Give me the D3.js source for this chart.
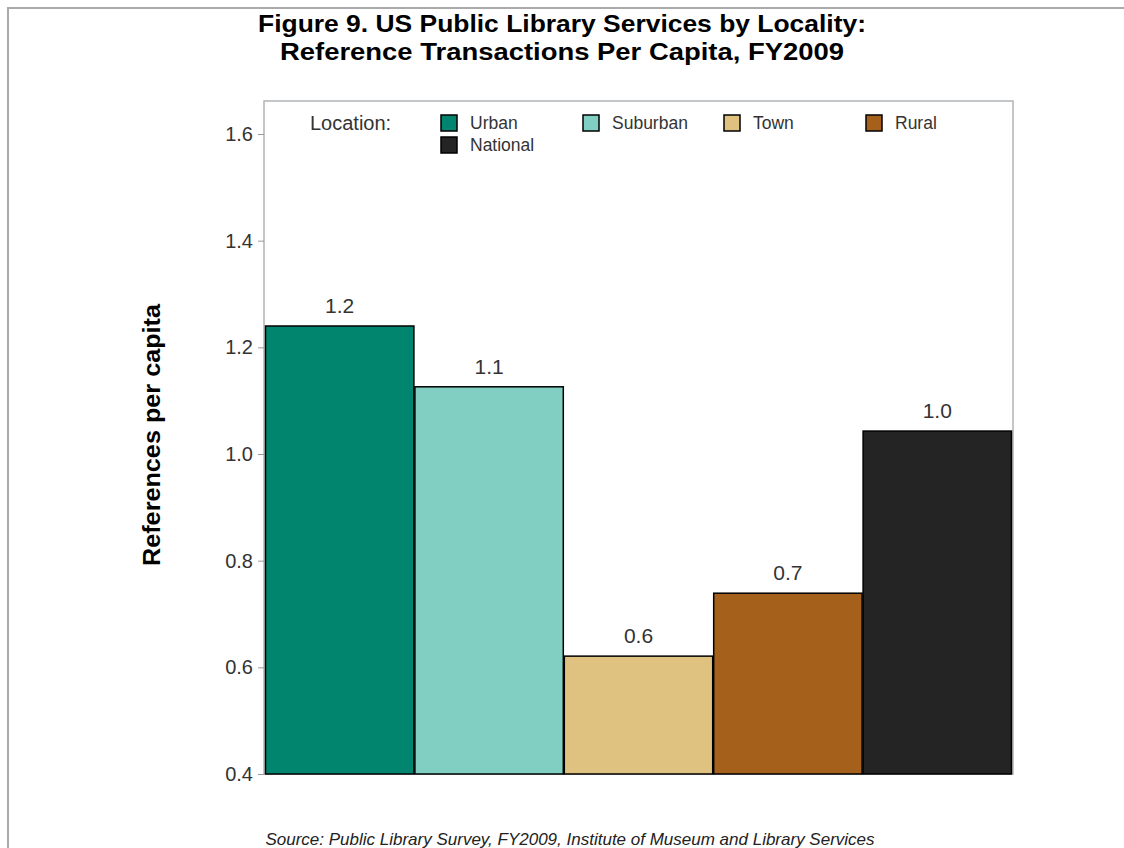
<!DOCTYPE html>
<html><head><meta charset="utf-8">
<script src="https://cdn.jsdelivr.net/npm/d3@7"></script>
<style>body{margin:0;background:#fff;} svg{display:block;}</style>
</head><body>
<script>
const categories = ["Urban", "Suburban", "Town", "Rural", "National"];
const values = [1.24, 1.126, 0.621, 0.739, 1.043];
const valueLabels = ["1.2", "1.1", "0.6", "0.7", "1.0"];
const colors = ["#02856f", "#81cfc2", "#dfc27f", "#a5611c", "#242424"];
const yTicks = [0.4, 0.6, 0.8, 1.0, 1.2, 1.4, 1.6];
const titleLines = ["Figure 9. US Public Library Services by Locality:", "Reference Transactions Per Capita, FY2009"];
const yTitle = "References per capita";
const legendTitle = "Location:";
const source = "Source: Public Library Survey, FY2009, Institute of Museum and Library Services";

const W = 1124, H = 848;
const svg = d3.select("body").append("svg").attr("width", W).attr("height", H);
const font = "Liberation Sans, Arial, sans-serif";

// outer border
svg.append("path").attr("d", `M8,${H} L8,8 L${W},8`).attr("fill","none").attr("stroke","#aaaaaa").attr("stroke-width",2);

const plot = {x0: 264, x1: 1013, y0: 101, y1: 774};
const y = d3.scaleLinear().domain([0.4, 1.6]).range([774, 134]);
const x = d3.scaleBand().domain(categories).range([plot.x0 + 1, plot.x1 - 1]).paddingInner(0).paddingOuter(0);

// title
const titleWidths = [608, 564];
svg.append("g").selectAll("text").data(titleLines).join("text")
  .attr("x", 562).attr("y", (d,i) => 32 + i*28)
  .attr("text-anchor","middle").attr("font-family", font).attr("font-weight","bold")
  .attr("font-size", 23).attr("fill","#000")
  .attr("textLength", (d,i) => titleWidths[i]).attr("lengthAdjust","spacingAndGlyphs")
  .text(d => d);

// plot frame
svg.append("rect").attr("x", plot.x0).attr("y", plot.y0).attr("width", plot.x1-plot.x0).attr("height", plot.y1-plot.y0)
  .attr("fill","none").attr("stroke","#b0b4b8").attr("stroke-width",1.5);

// bars
svg.append("g").selectAll("rect").data(categories).join("rect")
  .attr("x", d => x(d) + 0.5).attr("width", x.bandwidth() - 1)
  .attr("y", (d,i) => y(values[i])).attr("height", (d,i) => y(0.4) - y(values[i]))
  .attr("fill", (d,i) => colors[i]).attr("stroke","#000").attr("stroke-width",1.5);

// value labels
svg.append("g").selectAll("text").data(categories).join("text")
  .attr("x", d => x(d) + x.bandwidth()/2).attr("y", (d,i) => y(values[i]) - 13)
  .attr("text-anchor","middle").attr("font-family", font).attr("font-size", 21).attr("fill","#333")
  .text((d,i) => valueLabels[i]);

// y axis
const yAxis = d3.axisLeft(y).tickValues(yTicks).tickFormat(d3.format(".1f")).tickSize(6).tickPadding(5);
const ga = svg.append("g").attr("transform", `translate(${plot.x0},0)`).call(yAxis);
ga.select(".domain").remove();
ga.selectAll(".tick line").attr("stroke","#999");
ga.selectAll(".tick text").attr("font-family", font).attr("font-size", 20).attr("fill","#333");

// y title
svg.append("text").attr("transform", "translate(160,435) rotate(-90)")
  .attr("text-anchor","middle").attr("font-family", font).attr("font-weight","bold")
  .attr("font-size", 23).attr("fill","#000")
  .attr("textLength", 262).attr("lengthAdjust","spacingAndGlyphs").text(yTitle);

// legend
svg.append("text").attr("x", 310).attr("y", 130).attr("font-family", font).attr("font-size", 20).attr("fill","#333").text(legendTitle);
const legPos = [[441,115],[583,115],[724,115],[866,115],[441,137]];
const lg = svg.append("g").selectAll("g").data(categories).join("g")
  .attr("transform", (d,i) => `translate(${legPos[i][0]},${legPos[i][1]})`);
lg.append("rect").attr("width",16).attr("height",16).attr("fill",(d,i)=>colors[i]).attr("stroke","#000").attr("stroke-width",1.5);
lg.append("text").attr("x", 29).attr("y", 14).attr("font-family", font).attr("font-size", 17.5).attr("fill","#333").text(d => d);

// source
svg.append("text").attr("x", 570).attr("y", 845).attr("text-anchor","middle").attr("font-family", font)
  .attr("font-style","italic").attr("font-size", 17).attr("fill","#222").text(source);
</script>
</body></html>
